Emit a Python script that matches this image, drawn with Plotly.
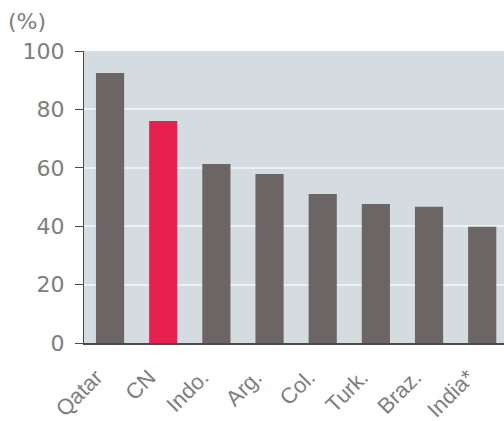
import plotly.graph_objects as go

countries = ["Qatar", "CN", "Indo.", "Arg.", "Col.", "Turk.", "Braz.", "India*"]
shares = [92.5, 76.0, 61.3, 57.9, 51.0, 47.6, 46.7, 39.8]
bar_colors = ["#6b6566", "#e8204e", "#6b6566", "#6b6566", "#6b6566", "#6b6566", "#6b6566", "#6b6566"]
y_ticks = [0, 20, 40, 60, 80, 100]

label_color = "#7e7e7e"
font_family = "DejaVu Sans, Liberation Sans, sans-serif"

fig = go.Figure(
    go.Bar(
        x=list(range(len(countries))),
        y=shares,
        marker=dict(color=bar_colors, line=dict(width=0)),
        width=0.53,
    )
)

fig.update_layout(
    width=504,
    height=421,
    margin=dict(l=84, r=0, t=51, b=78, autoexpand=False),
    paper_bgcolor="white",
    plot_bgcolor="#d4dce1",
    showlegend=False,
    font=dict(family=font_family, color=label_color),
    annotations=[
        dict(
            text="(%)",
            xref="paper",
            yref="paper",
            x=-0.185,
            y=1.05,
            xanchor="left",
            yanchor="bottom",
            showarrow=False,
            font=dict(size=22, color=label_color),
        )
    ],
)

fig.update_xaxes(
    automargin=False,
    range=[-0.49, 7.41],
    tickmode="array",
    tickvals=list(range(len(countries))),
    ticktext=countries,
    tickangle=-45,
    tickfont=dict(size=22, color=label_color,
                  family="Liberation Sans, Arial, sans-serif"),
    ticklabelshift=-14,
    ticklabelstandoff=11,
    showgrid=False,
    showline=True,
    linecolor="#4a4a4a",
    linewidth=1.5,
    ticks="",
    zeroline=False,
)

fig.update_yaxes(
    automargin=False,
    range=[0, 100],
    tickvals=y_ticks,
    tickfont=dict(size=22, color=label_color),
    showgrid=True,
    gridcolor="#edf1f3",
    gridwidth=1.5,
    showline=True,
    linecolor="#4a4a4a",
    linewidth=1,
    ticks="outside",
    ticklen=8,
    tickcolor="#4a4a4a",
    ticklabelstandoff=6,
    zeroline=False,
)

fig.write_html("out.html")
